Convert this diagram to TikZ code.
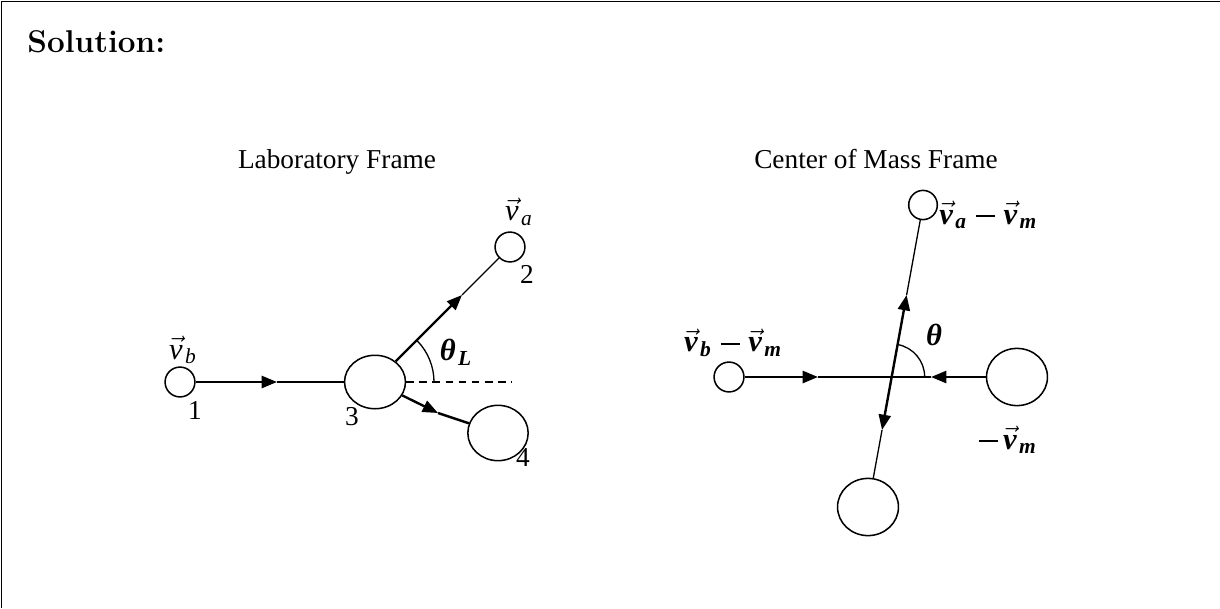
\documentclass[tikz,border=0pt]{standalone}
\usepackage{amsmath}
\usepackage{fontspec}
\newfontfamily\timesfont{Liberation Serif}
\usetikzlibrary{arrows.meta,shapes.geometric,calc}

\tikzset{
  ball/.style={draw,ellipse,inner sep=0pt,line width=0.7pt},
  heavy/.style={line width=1.1pt,-{Triangle[length=7pt,width=5.5pt]}},
  light/.style={line width=0.6pt},
  lbl/.style={font=\timesfont\fontsize{12.5}{15}\selectfont},
  vlbl/.style={font=\timesfont\itshape\fontsize{14}{16}\selectfont,inner sep=0pt},
  blbl/.style={font=\timesfont\bfseries\itshape\fontsize{14}{16}\selectfont,inner sep=0pt},
}
\newcommand{\vsub}[1]{\vec{\text{v}}_{\mkern2mu\text{#1}}}
\newcommand{\minusbar}{\text{\rule[0.24em]{0.62em}{0.07em}}}
\newcommand{\bminus}{\mkern5mu\minusbar\mkern5mu}

\begin{document}
\begin{tikzpicture}[x=0.01608cm,y=-0.01608cm]
  \useasboundingbox (0,0) rectangle (1220,608);
  \draw[line width=0.5pt] (1.5,608) -- (1.5,1.5) -- (1220,1.5);
  \node[anchor=base west,inner sep=0pt,font=\fontsize{14.4}{17}\selectfont\bfseries] (sol) at (27,52) {Solution:};
  \node[lbl,anchor=base] (labtitle) at (337,168) {Laboratory Frame};
  \node[lbl,anchor=base] (cmtitle) at (876,168) {Center of Mass Frame};

  % laboratory frame
  \node[ball,minimum width=0.48cm,minimum height=0.48cm] (l1) at (180,382) {};
  \node[ball,minimum width=0.48cm,minimum height=0.48cm] (l2) at (510,247) {};
  \node[ball,minimum width=0.98cm,minimum height=0.86cm] (l3) at (375,382) {};
  \node[ball,minimum width=0.97cm,minimum height=0.89cm] (l4) at (498,433) {};
  \coordinate (t13) at (277,382);
  \coordinate (t32) at (462,295);
  \coordinate (t34) at (438,413);
  \coordinate (dashend) at (512,382);
  \draw[heavy] (l1) -- (t13);
  \draw[light] (t13) -- (l3);
  \draw[heavy] (l3) -- (t32);
  \draw[light] (t32) -- (l2);
  \draw[heavy] (l3) -- (t34);
  \draw[light,line width=1.1pt] (t34) -- (l4);
  \draw[light,dash pattern=on 3.5pt off 2.5pt] (l3.east) -- (dashend);
  \draw[light] ($(l3.center)+(59,0)$) arc[start angle=0,end angle=-44,radius=59];
  \node[vlbl] (vb) at (183,350) {$\vsub{b}$};
  \node[vlbl] (va) at (519,212) {$\vsub{a}$};
  \node[blbl] (thl) at (456,352) {$\text{θ}_{\mkern2mu\text{L}}$};
  \node[lbl] (n1) at (195,410) {1};
  \node[lbl] (n2) at (527,274) {2};
  \node[lbl] (n3) at (352,417) {3};
  \node[lbl] (n4) at (523,458) {4};

  % center of mass frame
  \node[ball,minimum width=0.46cm,minimum height=0.47cm] (ca) at (923,205) {};
  \node[ball,minimum width=0.48cm,minimum height=0.48cm] (cb) at (729,377) {};
  \node[ball,minimum width=0.98cm,minimum height=0.92cm] (cm) at (1017,377) {};
  \node[ball,minimum width=0.98cm,minimum height=0.92cm] (cd) at (868,507) {};
  \coordinate (cx) at ($(ca)!0.5695!(cd)$);
  \coordinate (tup) at ($(ca)!0.298!(cd)$);
  \coordinate (tdn) at ($(ca)!0.745!(cd)$);
  \coordinate (tb) at (818,377);
  \coordinate (tm) at (931,377);
  \draw[heavy] (cb) -- (tb);
  \draw[light] (tb) -- (tm);
  \draw[heavy] (cm) -- (tm);
  \draw[heavy] (cx) -- (tup);
  \draw[light] (tup) -- (ca);
  \draw[heavy] (cx) -- (tdn);
  \draw[light] (tdn) -- (cd);
  \draw[light] ($(cx)+(33,0)$) arc[start angle=0,end angle=-79.5,radius=33];
  \node[blbl] (th) at (934,335) {θ};
  \node[blbl,anchor=west] (vam) at (939,215) {$\vsub{a}\bminus\vsub{m}$};
  \node[blbl] (vbm) at (733,343) {$\vsub{b}\bminus\vsub{m}$};
  \node[blbl] (mvm) at (1008,440) {$\minusbar\mkern3mu\vsub{m}$};
\end{tikzpicture}
\end{document}
